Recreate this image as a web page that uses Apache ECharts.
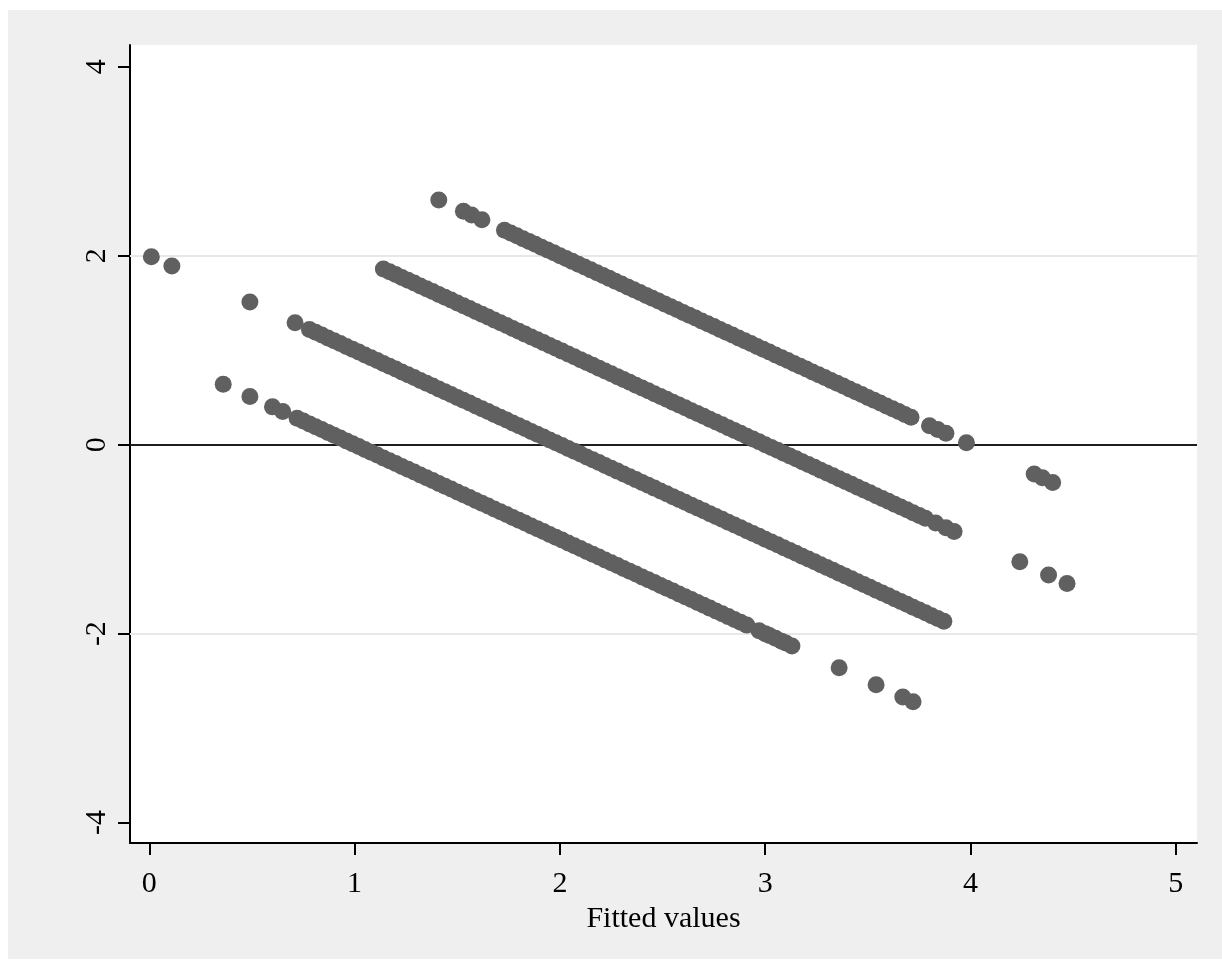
<!DOCTYPE html>
<html>
<head>
<meta charset="utf-8">
<script src="https://cdn.jsdelivr.net/npm/echarts@6/dist/echarts.min.js"></script>
<style>
  body { margin: 0; background: #fff; }
  #chart { position: absolute; left: 8px; top: 10px; width: 1214px; height: 949px; }
</style>
</head>
<body>
<div id="chart"></div>
<script>
// residuals vs fitted values: [fitted, residual]
var band1 = [
  [0.36, 0.64], [0.49, 0.51], [0.60, 0.40], [0.65, 0.35],
  [0.72, 0.28], [0.75, 0.25], [0.78, 0.22], [0.81, 0.19], [0.84, 0.16], [0.87, 0.13],
  [0.90, 0.10], [0.93, 0.07], [0.96, 0.04], [0.99, 0.01], [1.02, -0.02], [1.05, -0.05],
  [1.08, -0.08], [1.11, -0.11], [1.14, -0.14], [1.17, -0.17], [1.20, -0.20], [1.23, -0.23],
  [1.26, -0.26], [1.29, -0.29], [1.32, -0.32], [1.35, -0.35], [1.38, -0.38], [1.41, -0.41],
  [1.44, -0.44], [1.47, -0.47], [1.50, -0.50], [1.53, -0.53], [1.56, -0.56], [1.59, -0.59],
  [1.62, -0.62], [1.65, -0.65], [1.68, -0.68], [1.71, -0.71], [1.74, -0.74], [1.77, -0.77],
  [1.80, -0.80], [1.83, -0.83], [1.86, -0.86], [1.89, -0.89], [1.92, -0.92], [1.95, -0.95],
  [1.98, -0.98], [2.01, -1.01], [2.04, -1.04], [2.07, -1.07], [2.10, -1.10], [2.13, -1.13],
  [2.16, -1.16], [2.19, -1.19], [2.22, -1.22], [2.25, -1.25], [2.28, -1.28], [2.31, -1.31],
  [2.34, -1.34], [2.37, -1.37], [2.40, -1.40], [2.43, -1.43], [2.46, -1.46], [2.49, -1.49],
  [2.52, -1.52], [2.55, -1.55], [2.58, -1.58], [2.61, -1.61], [2.64, -1.64], [2.67, -1.67],
  [2.70, -1.70], [2.73, -1.73], [2.76, -1.76], [2.79, -1.79], [2.82, -1.82], [2.85, -1.85],
  [2.88, -1.88], [2.91, -1.91],
  [2.97, -1.97], [3.00, -2.00], [3.02, -2.02], [3.05, -2.05], [3.08, -2.08], [3.10, -2.10],
  [3.13, -2.13],
  [3.36, -2.36], [3.54, -2.54], [3.67, -2.67], [3.72, -2.72]
];
var band2 = [
  [0.01, 1.99], [0.11, 1.89], [0.49, 1.51], [0.71, 1.29],
  [0.78, 1.22], [0.81, 1.19], [0.84, 1.16], [0.87, 1.13], [0.90, 1.10], [0.93, 1.07],
  [0.96, 1.04], [0.99, 1.01], [1.02, 0.98], [1.05, 0.95], [1.08, 0.92], [1.11, 0.89],
  [1.14, 0.86], [1.17, 0.83], [1.20, 0.80], [1.23, 0.77], [1.26, 0.74], [1.29, 0.71],
  [1.32, 0.68], [1.35, 0.65], [1.38, 0.62], [1.41, 0.59], [1.44, 0.56], [1.47, 0.53],
  [1.50, 0.50], [1.53, 0.47], [1.56, 0.44], [1.59, 0.41], [1.62, 0.38], [1.65, 0.35],
  [1.68, 0.32], [1.71, 0.29], [1.74, 0.26], [1.77, 0.23], [1.80, 0.20], [1.83, 0.17],
  [1.86, 0.14], [1.89, 0.11], [1.92, 0.08], [1.95, 0.05], [1.98, 0.02], [2.01, -0.01],
  [2.04, -0.04], [2.07, -0.07], [2.10, -0.10], [2.13, -0.13], [2.16, -0.16], [2.19, -0.19],
  [2.22, -0.22], [2.25, -0.25], [2.28, -0.28], [2.31, -0.31], [2.34, -0.34], [2.37, -0.37],
  [2.40, -0.40], [2.43, -0.43], [2.46, -0.46], [2.49, -0.49], [2.52, -0.52], [2.55, -0.55],
  [2.58, -0.58], [2.61, -0.61], [2.64, -0.64], [2.67, -0.67], [2.70, -0.70], [2.73, -0.73],
  [2.76, -0.76], [2.79, -0.79], [2.82, -0.82], [2.85, -0.85], [2.88, -0.88], [2.91, -0.91],
  [2.94, -0.94], [2.97, -0.97], [3.00, -1.00], [3.03, -1.03], [3.06, -1.06], [3.09, -1.09],
  [3.12, -1.12], [3.15, -1.15], [3.18, -1.18], [3.21, -1.21], [3.24, -1.24], [3.27, -1.27],
  [3.30, -1.30], [3.33, -1.33], [3.36, -1.36], [3.39, -1.39], [3.42, -1.42], [3.45, -1.45],
  [3.48, -1.48], [3.51, -1.51], [3.54, -1.54], [3.57, -1.57], [3.60, -1.60], [3.63, -1.63],
  [3.66, -1.66], [3.69, -1.69], [3.72, -1.72], [3.75, -1.75], [3.78, -1.78], [3.81, -1.81],
  [3.84, -1.84], [3.87, -1.87]
];
var band3 = [
  [1.14, 1.86], [1.17, 1.83], [1.20, 1.80], [1.23, 1.77], [1.26, 1.74], [1.29, 1.71],
  [1.32, 1.68], [1.35, 1.65], [1.38, 1.62], [1.41, 1.59], [1.44, 1.56], [1.47, 1.53],
  [1.50, 1.50], [1.53, 1.47], [1.56, 1.44], [1.59, 1.41], [1.62, 1.38], [1.65, 1.35],
  [1.68, 1.32], [1.71, 1.29], [1.74, 1.26], [1.77, 1.23], [1.80, 1.20], [1.83, 1.17],
  [1.86, 1.14], [1.89, 1.11], [1.92, 1.08], [1.95, 1.05], [1.98, 1.02], [2.01, 0.99],
  [2.04, 0.96], [2.07, 0.93], [2.10, 0.90], [2.13, 0.87], [2.16, 0.84], [2.19, 0.81],
  [2.22, 0.78], [2.25, 0.75], [2.28, 0.72], [2.31, 0.69], [2.34, 0.66], [2.37, 0.63],
  [2.40, 0.60], [2.43, 0.57], [2.46, 0.54], [2.49, 0.51], [2.52, 0.48], [2.55, 0.45],
  [2.58, 0.42], [2.61, 0.39], [2.64, 0.36], [2.67, 0.33], [2.70, 0.30], [2.73, 0.27],
  [2.76, 0.24], [2.79, 0.21], [2.82, 0.18], [2.85, 0.15], [2.88, 0.12], [2.91, 0.09],
  [2.94, 0.06], [2.97, 0.03], [3.00, 0.00], [3.03, -0.03], [3.06, -0.06], [3.09, -0.09],
  [3.12, -0.12], [3.15, -0.15], [3.18, -0.18], [3.21, -0.21], [3.24, -0.24], [3.27, -0.27],
  [3.30, -0.30], [3.33, -0.33], [3.36, -0.36], [3.39, -0.39], [3.42, -0.42], [3.45, -0.45],
  [3.48, -0.48], [3.51, -0.51], [3.54, -0.54], [3.57, -0.57], [3.60, -0.60], [3.63, -0.63],
  [3.66, -0.66], [3.69, -0.69], [3.72, -0.72], [3.75, -0.75], [3.78, -0.78],
  [3.83, -0.83], [3.88, -0.88], [3.92, -0.92],
  [4.24, -1.24], [4.38, -1.38], [4.47, -1.47]
];
var band4 = [
  [1.41, 2.59], [1.53, 2.47], [1.57, 2.43], [1.62, 2.38],
  [1.73, 2.27], [1.76, 2.24], [1.79, 2.21], [1.82, 2.18], [1.85, 2.15], [1.88, 2.12],
  [1.91, 2.09], [1.94, 2.06], [1.97, 2.03], [2.00, 2.00], [2.03, 1.97], [2.06, 1.94],
  [2.09, 1.91], [2.12, 1.88], [2.15, 1.85], [2.18, 1.82], [2.21, 1.79], [2.24, 1.76],
  [2.27, 1.73], [2.30, 1.70], [2.33, 1.67], [2.36, 1.64], [2.39, 1.61], [2.42, 1.58],
  [2.45, 1.55], [2.48, 1.52], [2.51, 1.49], [2.54, 1.46], [2.57, 1.43], [2.60, 1.40],
  [2.63, 1.37], [2.66, 1.34], [2.69, 1.31], [2.72, 1.28], [2.75, 1.25], [2.78, 1.22],
  [2.81, 1.19], [2.84, 1.16], [2.87, 1.13], [2.90, 1.10], [2.93, 1.07], [2.96, 1.04],
  [2.99, 1.01], [3.02, 0.98], [3.05, 0.95], [3.08, 0.92], [3.11, 0.89], [3.14, 0.86],
  [3.17, 0.83], [3.20, 0.80], [3.23, 0.77], [3.26, 0.74], [3.29, 0.71], [3.32, 0.68],
  [3.35, 0.65], [3.38, 0.62], [3.41, 0.59], [3.44, 0.56], [3.47, 0.53], [3.50, 0.50],
  [3.53, 0.47], [3.56, 0.44], [3.59, 0.41], [3.62, 0.38], [3.65, 0.35], [3.68, 0.32],
  [3.71, 0.29],
  [3.80, 0.20], [3.84, 0.16], [3.88, 0.12], [3.98, 0.02],
  [4.31, -0.31], [4.35, -0.35], [4.40, -0.40]
];
var xTicks = [0, 1, 2, 3, 4, 5];
var yTicks = [-4, -2, 0, 2, 4];
var gridLines = [-2, 2];
var zeroLine = 0;

var chart = echarts.init(document.getElementById("chart"));
var font = "Liberation Serif";
var markerColor = "#606060";

function bandSeries(data) {
  return {
    type: "scatter",
    symbol: "circle",
    symbolSize: 17,
    z: 3,
    itemStyle: { color: markerColor, opacity: 1 },
    data: data
  };
}

var refLines = gridLines.map(function (v) {
  return { yAxis: v, lineStyle: { color: "#e8e8e8", width: 2, type: "solid" } };
});
refLines.push({ yAxis: zeroLine, lineStyle: { color: "#1e1e1e", width: 2, type: "solid" } });

var series = [band1, band2, band3, band4].map(bandSeries);
series[0].markLine = {
  silent: true,
  z: 1,
  symbol: ["none", "none"],
  label: { show: false },
  emphasis: { disabled: true },
  data: refLines
};

var options = {
  backgroundColor: "#efefef",
  animation: false,
  grid: {
    left: 122,
    top: 35,
    right: 25,
    bottom: 116,
    show: true,
    backgroundColor: "#ffffff",
    borderWidth: 0
  },
  xAxis: {
    type: "value",
    min: -0.094,
    max: 5.103,
    name: "Fitted values",
    nameLocation: "middle",
    nameGap: 60,
    nameTextStyle: { fontFamily: font, fontSize: 30, color: "#000" },
    axisLine: { show: true, onZero: false, lineStyle: { color: "#000", width: 2 } },
    axisTick: { show: true, length: 12, customValues: xTicks, lineStyle: { color: "#000", width: 2 } },
    axisLabel: { customValues: xTicks, fontFamily: font, fontSize: 30, color: "#000", margin: 26 },
    splitLine: { show: false }
  },
  yAxis: {
    type: "value",
    min: -4.216,
    max: 4.23,
    axisLine: { show: true, onZero: false, lineStyle: { color: "#000", width: 2 } },
    axisTick: { show: true, length: 12, customValues: yTicks, lineStyle: { color: "#000", width: 2 } },
    axisLabel: { customValues: yTicks, rotate: 90, fontFamily: font, fontSize: 30, color: "#000", margin: 18 },
    splitLine: { show: false }
  },
  series: series
};
chart.setOption(options);
</script>
</body>
</html>
